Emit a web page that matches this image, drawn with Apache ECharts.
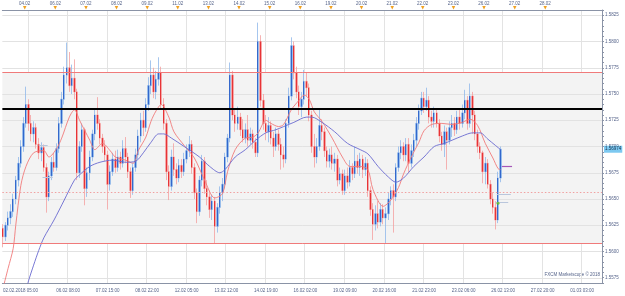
<!DOCTYPE html>
<html><head><meta charset="utf-8">
<script src="https://cdn.jsdelivr.net/npm/echarts@6/dist/echarts.min.js"></script>
<style>html,body{margin:0;padding:0;background:#fff}#c{width:625px;height:296px}</style>
</head><body><div id="c"></div>
<script>
// ---- hourly slots on the time axis (trading hours from 02.02.2018 05:00) ----
const hourSlots = 470;
const barStep = 2; // each candle covers 2 hourly slots

// ---- candles (2h), values ----
const open = [1.5622,1.5614,1.5625,1.5632,1.5638,1.5650,1.5668,1.5684,1.5700,1.5722,
1.5740,1.5722,1.5712,1.5718,1.5702,1.5694,1.5699,1.5680,1.5652,1.5672,
1.5685,1.5680,1.5698,1.5722,1.5745,1.5768,1.5775,1.5758,1.5765,1.5752,
1.5675,1.5700,1.5716,1.5660,1.5675,1.5690,1.5712,1.5730,1.5722,1.5708,
1.5700,1.5692,1.5664,1.5676,1.5688,1.5680,1.5690,1.5684,1.5698,1.5690,
1.5676,1.5658,1.5680,1.5692,1.5710,1.5725,1.5718,1.5740,1.5758,1.5768,
1.5752,1.5764,1.5770,1.5740,1.5722,1.5676,1.5662,1.5690,1.5678,1.5670,
1.5682,1.5676,1.5688,1.5696,1.5702,1.5680,1.5656,1.5638,1.5668,1.5686,
1.5660,1.5652,1.5640,1.5648,1.5624,1.5642,1.5656,1.5664,1.5690,1.5708,
1.5768,1.5730,1.5722,1.5728,1.5716,1.5708,1.5716,1.5706,1.5712,1.5704,
1.5694,1.5800,1.5744,1.5722,1.5714,1.5720,1.5708,1.5700,1.5712,1.5702,
1.5692,1.5688,1.5722,1.5748,1.5796,1.5770,1.5752,1.5738,1.5745,1.5762,
1.5756,1.5730,1.5700,1.5690,1.5700,1.5720,1.5714,1.5696,1.5686,1.5692,
1.5684,1.5688,1.5668,1.5674,1.5658,1.5672,1.5666,1.5680,1.5674,1.5686,
1.5680,1.5688,1.5678,1.5684,1.5658,1.5640,1.5626,1.5636,1.5628,1.5640,
1.5632,1.5636,1.5650,1.5658,1.5652,1.5680,1.5694,1.5700,1.5692,1.5702,
1.5684,1.5696,1.5706,1.5722,1.5734,1.5746,1.5738,1.5744,1.5728,1.5724,
1.5732,1.5722,1.5710,1.5702,1.5714,1.5706,1.5718,1.5722,1.5716,1.5728,
1.5722,1.5732,1.5744,1.5722,1.5748,1.5730,1.5712,1.5700,1.5694,1.5676,
1.5684,1.5664,1.5650,1.5642,1.5630,1.5670];
const close = [1.5614,1.5625,1.5632,1.5638,1.5650,1.5668,1.5684,1.5700,1.5722,1.5740,
1.5722,1.5712,1.5718,1.5702,1.5694,1.5699,1.5680,1.5652,1.5672,1.5685,
1.5680,1.5698,1.5722,1.5745,1.5768,1.5775,1.5758,1.5765,1.5752,1.5675,
1.5700,1.5716,1.5660,1.5675,1.5690,1.5712,1.5730,1.5722,1.5708,1.5700,
1.5692,1.5664,1.5676,1.5688,1.5680,1.5690,1.5684,1.5698,1.5690,1.5676,
1.5658,1.5680,1.5692,1.5710,1.5725,1.5718,1.5740,1.5758,1.5768,1.5752,
1.5764,1.5770,1.5740,1.5722,1.5676,1.5662,1.5690,1.5678,1.5670,1.5682,
1.5676,1.5688,1.5696,1.5702,1.5680,1.5656,1.5638,1.5668,1.5686,1.5660,
1.5652,1.5640,1.5648,1.5624,1.5642,1.5656,1.5664,1.5690,1.5708,1.5768,
1.5730,1.5722,1.5728,1.5716,1.5708,1.5716,1.5706,1.5712,1.5704,1.5694,
1.5800,1.5744,1.5722,1.5714,1.5720,1.5708,1.5700,1.5712,1.5702,1.5692,
1.5688,1.5722,1.5748,1.5796,1.5770,1.5752,1.5738,1.5745,1.5762,1.5756,
1.5730,1.5700,1.5690,1.5700,1.5720,1.5714,1.5696,1.5686,1.5692,1.5684,
1.5688,1.5668,1.5674,1.5658,1.5672,1.5666,1.5680,1.5674,1.5686,1.5680,
1.5688,1.5678,1.5684,1.5658,1.5640,1.5626,1.5636,1.5628,1.5640,1.5632,
1.5636,1.5650,1.5658,1.5652,1.5680,1.5694,1.5700,1.5692,1.5702,1.5684,
1.5696,1.5706,1.5722,1.5734,1.5746,1.5738,1.5744,1.5728,1.5724,1.5732,
1.5722,1.5710,1.5702,1.5714,1.5706,1.5718,1.5722,1.5716,1.5728,1.5722,
1.5732,1.5744,1.5722,1.5748,1.5730,1.5712,1.5700,1.5694,1.5676,1.5684,
1.5664,1.5650,1.5642,1.5630,1.5670,1.56974];
const low = [1.5604,1.5610,1.5620,1.5626,1.5633,1.5645,1.5662,1.5680,1.5695,1.5718,
1.5715,1.5705,1.5704,1.5698,1.5688,1.5686,1.5676,1.5637,1.5648,1.5668,
1.5676,1.5677,1.5694,1.5718,1.5740,1.5760,1.5752,1.5750,1.5745,1.5668,
1.5670,1.5695,1.5644,1.5652,1.5668,1.5686,1.5706,1.5716,1.5702,1.5694,
1.5686,1.5640,1.5658,1.5672,1.5675,1.5676,1.5678,1.5680,1.5684,1.5670,
1.5651,1.5654,1.5676,1.5688,1.5704,1.5710,1.5714,1.5734,1.5750,1.5746,
1.5745,1.5758,1.5735,1.5716,1.5668,1.5649,1.5658,1.5672,1.5664,1.5666,
1.5670,1.5672,1.5684,1.5690,1.5674,1.5650,1.5627,1.5634,1.5662,1.5655,
1.5644,1.5632,1.5630,1.5608,1.5618,1.5636,1.5648,1.5660,1.5685,1.5704,
1.5725,1.5714,1.5716,1.5710,1.5704,1.5703,1.5700,1.5702,1.5698,1.5690,
1.5690,1.5738,1.5716,1.5706,1.5704,1.5702,1.5690,1.5696,1.5696,1.5678,
1.5680,1.5684,1.5718,1.5744,1.5764,1.5746,1.5730,1.5728,1.5740,1.5748,
1.5724,1.5694,1.5680,1.5684,1.5696,1.5706,1.5690,1.5680,1.5680,1.5678,
1.5676,1.5662,1.5664,1.5654,1.5654,1.5660,1.5662,1.5668,1.5670,1.5674,
1.5672,1.5670,1.5672,1.5652,1.5634,1.5611,1.5620,1.5622,1.5624,1.5626,
1.5608,1.5630,1.5644,1.5618,1.5648,1.5676,1.5688,1.5686,1.5686,1.5675,
1.5680,1.5690,1.5700,1.5716,1.5730,1.5732,1.5734,1.5722,1.5718,1.5718,
1.5718,1.5704,1.5696,1.5690,1.5678,1.5702,1.5709,1.5710,1.5712,1.5716,
1.5718,1.5726,1.5716,1.5718,1.5712,1.5706,1.5694,1.5688,1.5665,1.5664,
1.5660,1.5645,1.5636,1.5621,1.5627,1.5666];
const high = [1.5626,1.5628,1.5638,1.5645,1.5655,1.5672,1.5690,1.5706,1.5728,1.5757,
1.5745,1.5730,1.5724,1.5722,1.5708,1.5704,1.5702,1.5684,1.5676,1.5690,
1.5694,1.5703,1.5728,1.5752,1.5776,1.5799,1.5790,1.5778,1.5783,1.5755,
1.5705,1.5722,1.5718,1.5680,1.5696,1.5716,1.5736,1.5747,1.5726,1.5712,
1.5706,1.5696,1.5682,1.5694,1.5696,1.5697,1.5695,1.5706,1.5709,1.5694,
1.5680,1.5684,1.5698,1.5716,1.5732,1.5734,1.5746,1.5766,1.5782,1.5775,
1.5772,1.5785,1.5776,1.5746,1.5726,1.5682,1.5697,1.5703,1.5684,1.5688,
1.5688,1.5694,1.5702,1.5710,1.5706,1.5684,1.5660,1.5672,1.5692,1.5690,
1.5668,1.5658,1.5654,1.5652,1.5646,1.5662,1.5670,1.5694,1.5712,1.5780,
1.5772,1.5736,1.5738,1.5732,1.5726,1.5722,1.5730,1.5718,1.5716,1.5708,
1.5818,1.5806,1.5750,1.5730,1.5728,1.5724,1.5714,1.5718,1.5716,1.5708,
1.5700,1.5726,1.5756,1.5804,1.5800,1.5776,1.5758,1.5752,1.5773,1.5770,
1.5760,1.5734,1.5712,1.5708,1.5735,1.5726,1.5718,1.5700,1.5698,1.5700,
1.5694,1.5692,1.5680,1.5678,1.5678,1.5680,1.5687,1.5684,1.5700,1.5692,
1.5694,1.5692,1.5690,1.5688,1.5662,1.5646,1.5644,1.5648,1.5646,1.5645,
1.5642,1.5656,1.5662,1.5664,1.5684,1.5700,1.5706,1.5704,1.5708,1.5708,
1.5702,1.5712,1.5728,1.5740,1.5752,1.5752,1.5756,1.5748,1.5734,1.5738,
1.5736,1.5726,1.5714,1.5720,1.5718,1.5724,1.5730,1.5728,1.5734,1.5736,
1.5740,1.5754,1.5748,1.5760,1.5752,1.5734,1.5716,1.5704,1.5696,1.5690,
1.5688,1.5668,1.5656,1.5648,1.5676,1.5700];

// ---- moving averages: [candle index, value] ----
const maFast = [[0,1.5565],[2,1.5584],[4,1.5603],[5,1.5625],[7,1.5663],[9,1.5681],[12,1.5694],[16,1.5696],[18,1.5690],[21,1.5698],[23,1.5708],[26,1.5728],[28,1.5735],[30,1.5725],[34,1.5706],[36,1.5697],[39,1.5703],[42,1.5696],[44,1.5690],[48,1.5687],[51,1.5684],[53,1.5696],[56,1.5709],[58,1.5724],[60,1.5734],[62,1.5740],[65,1.5728],[67,1.5714],[71,1.5701],[75,1.5689],[79,1.5668],[83,1.5651],[86,1.5655],[88,1.5676],[91,1.5697],[95,1.5708],[98,1.5709],[100,1.5713],[103,1.5725],[105,1.5722],[108,1.5719],[110,1.5721],[113,1.5735],[116,1.5744],[118,1.5749],[120,1.5745],[122,1.5733],[125,1.5724],[129,1.5708],[133,1.5690],[136,1.5681],[140,1.5681],[143,1.5678],[145,1.5659],[149,1.5643],[152,1.5649],[155,1.5661],[157,1.5674],[160,1.5690],[163,1.5704],[165,1.5715],[168,1.5721],[172,1.5722],[176,1.5721],[180,1.5723],[183,1.5726],[186,1.5720],[189,1.5703],[192,1.5689],[194,1.5679],[195,1.5678]];
const maSlow = [[9,1.5562],[10,1.5572],[12,1.5587],[14,1.5601],[16,1.5613],[20,1.5630],[24,1.5649],[28,1.5668],[30,1.5673],[34,1.5681],[38,1.5685],[43,1.5687],[48,1.5685],[52,1.5686],[55,1.5694],[58,1.5704],[61,1.5712],[63,1.5712],[66,1.5708],[71,1.5700],[77,1.5690],[81,1.5681],[85,1.5675],[87,1.5678],[91,1.5690],[95,1.5697],[99,1.5706],[103,1.5713],[107,1.5716],[110,1.5719],[114,1.5723],[119,1.5728],[121,1.5728],[125,1.5723],[130,1.5714],[135,1.5703],[140,1.5697],[143,1.5693],[147,1.5681],[151,1.5671],[154,1.5666],[157,1.5670],[161,1.5681],[165,1.5690],[169,1.5700],[173,1.5703],[176,1.5706],[180,1.5710],[184,1.5713],[187,1.5713],[190,1.5707],[193,1.5701],[195,1.5697]];

// ---- levels ----
const bandHigh = 1.5771, bandLow = 1.5608;
const blackLevel = 1.57355;
const dashedLevel = 1.5657;
const lastPrice = 1.56974;
const yTicks = [1.5575,1.5600,1.5625,1.5650,1.5675,1.5700,1.5725,1.5750,1.5775,1.5800,1.5825];
// short marker segments: [from slot, to slot, price]
const greySegs = [[28,35,1.5701],[31,39,1.5671],[387,398,1.5655],[386,396,1.5647]];
const purpleSegs = [[391,399,1.5681]];
const greenDot = [388,1.5646];

// ---- axis labels ----
const bottomLabelIdx = [0,51,82,113,144,175,206,237,268,299,330,361,392,423,454];
const bottomLabels = ['02.02.2018 05:00','06.02 08:00','07.02 15:00','08.02 22:00','12.02 05:00','13.02 12:00','14.02 19:00','16.02 02:00','19.02 09:00','20.02 16:00','21.02 23:00','23.02 06:00','26.02 13:00','27.02 20:00','01.03 03:00'];
const gridIdx = [20,51,82,113,144,175,206,237,268,299,330,361,392,423,454];
const topLabelIdx = [17,41,65,89,113,137,161,185,209,233,257,281,305,329,353,377,401,425];
const topLabels = ['04.02','06.02','07.02','08.02','09.02','11.02','13.02','14.02','15.02','16.02','19.02','20.02','21.02','22.02','23.02','26.02','27.02','28.02'];

const cats = Array.from({length: hourSlots}, (_, i) => String(i));
const full = open.map((o, j) => [j * barStep, o, close[j], low[j], high[j]]);
const bodies = open.map((o, j) => [j * barStep, o, close[j], Math.min(o, close[j]), Math.max(o, close[j])]);
const FONT = 'Liberation Sans';
const axisCol = '#8a93a6';
const labCol = '#56648a';

// full-width horizontal rule at a price, snapped to the pixel grid
const levelStyles = [
  {stroke: '#f07a7a', lineWidth: 1},
  {stroke: '#f07a7a', lineWidth: 1},
  {stroke: '#000000', lineWidth: 2},
  {stroke: '#f0a0a0', lineWidth: 1, lineDash: [1.5, 2]}
];
const levelValues = [bandHigh, bandLow, blackLevel, dashedLevel];
const hRule = (style) => (params, api) => {
  const cs = params.coordSys;
  const y = Math.round(api.coord([0, api.value(1)])[1]) + (style.lineWidth % 2 ? 0.5 : 0);
  return {type: 'line', silent: true, shape: {x1: cs.x, y1: y, x2: cs.x + cs.width, y2: y},
    style: typeof style === 'function' ? style(params.dataIndex) : style};
};
const segRule = (color, w) => (params, api) => {
  const a = api.coord([api.value(0), api.value(2)]);
  const b = api.coord([api.value(1), api.value(2)]);
  const y = Math.round(a[1]) + 0.5;
  return {type: 'line', silent: true, shape: {x1: a[0], y1: y, x2: b[0], y2: y}, style: {stroke: color, lineWidth: w}};
};

const chart = echarts.init(document.getElementById('c'));
chart.setOption({
  animation: false,
  grid: {left: 0, right: 23, top: 10, bottom: 13},
  xAxis: [{
    type: 'category', data: cats, position: 'bottom',
    axisLine: {lineStyle: {color: axisCol}},
    axisTick: {length: 2, lineStyle: {color: axisCol}, interval: i => i % 6 === 2},
    axisLabel: {fontSize: 4.5, fontFamily: FONT, color: labCol, margin: 5, alignMinLabel: 'left',
      interval: i => bottomLabelIdx.includes(i),
      formatter: (v, i) => { const k = bottomLabelIdx.indexOf(i); return k >= 0 ? bottomLabels[k] : ''; }},
    splitLine: {show: true, interval: i => gridIdx.includes(i), lineStyle: {color: '#e3e3e3', width: 1}}
  }, {
    type: 'category', data: cats, position: 'top',
    axisLine: {lineStyle: {color: axisCol}},
    axisTick: {length: 2, lineStyle: {color: axisCol}, interval: i => i % 5 === 2},
    axisLabel: {margin: 0, interval: i => topLabelIdx.includes(i),
      formatter: (v, i) => { const k = topLabelIdx.indexOf(i); return k >= 0 ? '{d|' + topLabels[k] + '}\n{t|▼}' : ''; },
      rich: {d: {fontSize: 4.5, fontFamily: FONT, color: labCol, lineHeight: 5},
             t: {fontSize: 4.5, fontFamily: 'DejaVu Sans', color: '#f0a020', lineHeight: 4}}},
    splitLine: {show: false}
  }],
  yAxis: {
    type: 'value', position: 'right', min: 1.5570, max: 1.5830, interval: 0.0005,
    axisLine: {show: true, lineStyle: {color: axisCol}},
    axisTick: {show: true, length: 2, lineStyle: {color: axisCol}},
    axisLabel: {fontSize: 4.5, fontFamily: FONT, color: labCol, margin: 3,
      formatter: v => (Math.round(v * 10000) % 25 === 0 ? v.toFixed(4) : '')},
    splitLine: {show: false}
  },
  series: [{
    // shaded band between the two red levels
    type: 'custom', name: 'band', z: 0, silent: true, clip: true,
    data: [[0, bandHigh, bandLow]], encode: {x: 0, y: [1, 2]},
    renderItem: (params, api) => {
      const cs = params.coordSys;
      const y1 = api.coord([0, api.value(1)])[1], y2 = api.coord([0, api.value(2)])[1];
      return {type: 'rect', shape: {x: cs.x, y: y1, width: cs.width, height: y2 - y1}, style: {fill: '#f3f3f3'}};
    }
  }, {
    // horizontal grid lines at the labelled ticks
    type: 'custom', name: 'hgrid', z: 1, silent: true,
    data: yTicks.map(v => [0, v]), encode: {x: 0, y: 1},
    renderItem: hRule({stroke: '#e2e2e2', lineWidth: 1})
  }, {
    type: 'candlestick', name: 'range', data: full, z: 2,
    encode: {x: 0, y: [1, 2, 3, 4]}, barWidth: 2,
    itemStyle: {color: '#8fb8ea', color0: '#f4a0a0', borderColor: '#8fb8ea', borderColor0: '#f4a0a0', borderWidth: 0.8}
  }, {
    type: 'candlestick', name: 'body', data: bodies, z: 3,
    encode: {x: 0, y: [1, 2, 3, 4]}, barWidth: 0.8,
    itemStyle: {color: '#1a52c4', color0: '#e3161b', borderColor: '#1a52c4', borderColor0: '#e3161b', borderWidth: 0.8}
  }, {
    type: 'line', name: 'MA fast', z: 4, symbol: 'none', smooth: 0.3,
    data: maFast.map(p => [p[0] * barStep, p[1]]),
    lineStyle: {color: '#f07a7a', width: 0.9}
  }, {
    type: 'line', name: 'MA slow', z: 5, symbol: 'none', smooth: 0.3,
    data: maSlow.map(p => [p[0] * barStep, p[1]]),
    lineStyle: {color: '#6a6ad0', width: 0.9}
  }, {
    // support / resistance levels
    type: 'custom', name: 'levels', z: 6, silent: true,
    data: levelValues.map(v => [0, v]), encode: {x: 0, y: 1},
    renderItem: (params, api) => hRule(levelStyles[params.dataIndex])(params, api)
  }, {
    type: 'custom', name: 'grey marks', z: 6, silent: true,
    data: greySegs, encode: {x: [0, 1], y: 2},
    renderItem: segRule('#b9c6dc', 1)
  }, {
    type: 'custom', name: 'purple marks', z: 6, silent: true,
    data: purpleSegs, encode: {x: [0, 1], y: 2},
    renderItem: segRule('#a558b8', 1.2)
  }, {
    type: 'scatter', name: 'fill', z: 7, silent: true, symbolSize: 3,
    data: [greenDot], itemStyle: {color: '#5cbf1c'}
  }, {
    // last price tag on the price scale
    type: 'custom', name: 'last', z: 8, silent: true, clip: false,
    data: [[hourSlots - 1, lastPrice]], encode: {x: 0, y: 1},
    renderItem: (params, api) => {
      const cs = params.coordSys;
      const y = api.coord([api.value(0), api.value(1)])[1];
      return {type: 'text', x: cs.x + cs.width + 2, y: y,
        style: {text: String(api.value(1)), fontSize: 4.5, fontFamily: FONT, fill: '#17324f',
          backgroundColor: '#7cc8f0', padding: [1, 1], verticalAlign: 'middle', align: 'left'}};
    }
  }],
  graphic: [
    {type: 'text', right: 25, top: 272, style: {text: 'FXCM Marketscope © 2018', fontSize: 4.5, fontFamily: FONT, fill: '#56648a'}},
    {type: 'rect', shape: {x: 6, y: 183, width: 4, height: 5}, style: {fill: '#3bb8b8'}},
    {type: 'rect', shape: {x: 10, y: 183, width: 11, height: 5}, style: {fill: '#ec5a5a'}},
    {type: 'rect', shape: {x: 21, y: 183, width: 38, height: 5}, style: {fill: '#dff0c8'}},
    {type: 'text', x: 11, y: 183.6, style: {text: '1.5663', fontSize: 3.6, fontFamily: FONT, fill: '#ffffff'}},
    {type: 'text', x: 22, y: 183.6, style: {text: '26. 02.10:00; 45.81', fontSize: 3.6, fontFamily: FONT, fill: '#6a7a6a'}}
  ]
});
</script></body></html>
